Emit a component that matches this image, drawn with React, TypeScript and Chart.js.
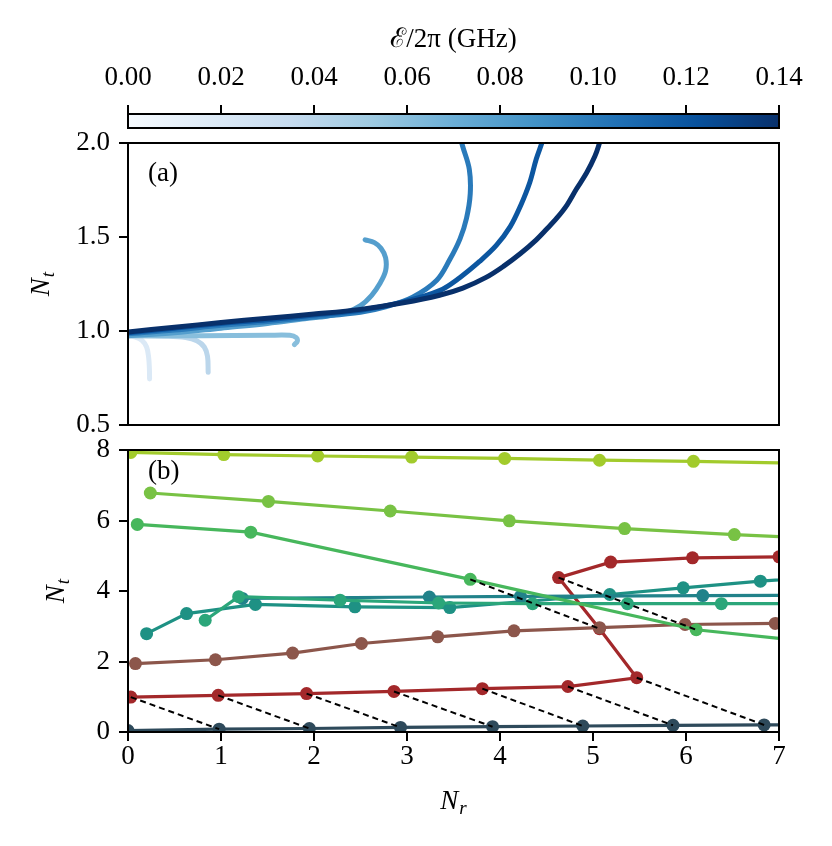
import React, { useEffect, useRef } from 'react';
import { Chart, registerables } from 'chart.js';
Chart.register(...registerables);

const W = 832;
const H = 846;
const FONT = "'Liberation Serif', 'DejaVu Serif', serif";
const FS = 27;

type Pt = [number, number];

// ---------- colorbar ----------
const CBAR_MIN = 0;
const CBAR_MAX = 0.14;
const CBAR_STEP = 0.02;
const CBAR_TITLE = 'ℰ/2π (GHz)';
const BLUES = ['#f7fbff', '#deebf7', '#c6dbef', '#9ecae1', '#6baed6', '#4292c6', '#2171b5', '#08519c', '#08306b'];

// ---------- panel (a): trajectories for each drive strength ----------
const EPS = [0.02, 0.04, 0.06, 0.08, 0.1, 0.12, 0.14];
const CURVE_1: Pt[] = [[0, 0.975], [0.08, 0.968], [0.15, 0.95], [0.2, 0.915], [0.222, 0.86], [0.23, 0.8], [0.232, 0.745]];
const CURVE_2: Pt[] = [[0, 0.975], [0.4, 0.972], [0.62, 0.965], [0.74, 0.948], [0.82, 0.915], [0.855, 0.865], [0.862, 0.78]];
const CURVE_3: Pt[] = [[0, 0.975], [0.8, 0.975], [1.5, 0.977], [1.74, 0.977], [1.81, 0.965], [1.82, 0.945], [1.79, 0.928]];
const CURVE_4: Pt[] = [[0, 0.975], [0.5, 0.99], [1.0, 1.015], [1.5, 1.04], [1.9, 1.065], [2.15, 1.08], [2.35, 1.1], [2.5, 1.135], [2.62, 1.19], [2.71, 1.254], [2.77, 1.32], [2.77, 1.39], [2.72, 1.44], [2.65, 1.47], [2.55, 1.485]];
const CURVE_5: Pt[] = [[0, 0.985], [0.5, 1.005], [1, 1.03], [1.5, 1.05], [2, 1.075], [2.5, 1.1], [2.78, 1.13], [3.06, 1.18], [3.32, 1.27], [3.46, 1.38], [3.57, 1.49], [3.64, 1.6], [3.68, 1.73], [3.67, 1.86], [3.6, 1.98], [3.56, 2.05]];
const CURVE_6: Pt[] = [[0, 0.99], [0.5, 1.015], [1, 1.04], [1.5, 1.06], [2, 1.085], [2.5, 1.11], [2.96, 1.155], [3.35, 1.215], [3.57, 1.285], [3.78, 1.37], [3.96, 1.455], [4.11, 1.555], [4.22, 1.665], [4.32, 1.79], [4.39, 1.915], [4.45, 2.0], [4.48, 2.05]];
const CURVE_7: Pt[] = [[0, 0.995], [0.5, 1.02], [1, 1.045], [1.5, 1.068], [2, 1.09], [2.5, 1.115], [2.96, 1.15], [3.35, 1.19], [3.6, 1.228], [3.85, 1.285], [4.04, 1.345], [4.22, 1.412], [4.39, 1.485], [4.5, 1.541], [4.61, 1.6], [4.72, 1.67], [4.82, 1.754], [4.93, 1.84], [5.02, 1.929], [5.07, 2.0], [5.1, 2.05]];
const CURVES_A = [CURVE_1, CURVE_2, CURVE_3, CURVE_4, CURVE_5, CURVE_6, CURVE_7];
const A_Y_TICKS = [0.5, 1.0, 1.5, 2.0];

// ---------- panel (b): branches ----------
const DARK: Pt[] = [[0, 0.04], [0.98, 0.08], [1.95, 0.1], [2.93, 0.13], [3.92, 0.15], [4.89, 0.17], [5.86, 0.19], [6.84, 0.2], [7.8, 0.22]];
const RED: Pt[] = [[0.03, 0.99], [0.97, 1.04], [1.92, 1.09], [2.86, 1.15], [3.81, 1.23], [4.73, 1.29], [5.47, 1.54], [5.07, 2.93], [4.63, 4.38], [5.19, 4.82], [6.07, 4.94], [7.0, 4.97]];
const BROWN: Pt[] = [[0.08, 1.94], [0.94, 2.05], [1.77, 2.24], [2.51, 2.51], [3.33, 2.7], [4.15, 2.87], [5.07, 2.96], [5.99, 3.05], [6.96, 3.08]];
const TEAL_1: Pt[] = [[0.2, 2.79], [0.63, 3.36], [1.37, 3.62], [2.44, 3.55], [3.46, 3.53], [5.18, 3.9], [5.97, 4.09], [6.8, 4.28], [7.6, 4.42]];
const TEAL_2: Pt[] = [[1.23, 3.79], [3.24, 3.83], [4.22, 3.85], [6.18, 3.87], [7.6, 3.88]];
const GREEN_TEAL: Pt[] = [[0.83, 3.17], [1.19, 3.84], [2.28, 3.74], [3.34, 3.66], [4.35, 3.64], [5.37, 3.64], [6.38, 3.64], [7.4, 3.64]];
const MID_GREEN: Pt[] = [[0.1, 5.89], [1.32, 5.67], [3.68, 4.33], [6.11, 2.9], [8.5, 2.25]];
const LIGHT_GREEN: Pt[] = [[0.24, 6.78], [1.51, 6.54], [2.82, 6.27], [4.1, 5.99], [5.34, 5.77], [6.52, 5.6], [7.7, 5.46]];
const YELLOW_GREEN: Pt[] = [[0.03, 7.93], [1.03, 7.87], [2.04, 7.83], [3.05, 7.8], [4.05, 7.76], [5.07, 7.71], [6.08, 7.68], [7.09, 7.63]];
// dashed connectors: [x1, y1, x2, y2]
const DASH_PAIRS: [number, number, number, number][] = [
  [0.03, 0.99, 0.98, 0.08],
  [0.97, 1.04, 1.95, 0.1],
  [1.92, 1.09, 2.93, 0.13],
  [2.86, 1.15, 3.92, 0.15],
  [3.81, 1.23, 4.89, 0.17],
  [4.73, 1.29, 5.86, 0.19],
  [5.47, 1.54, 6.84, 0.2],
  [3.68, 4.33, 5.07, 2.93],
  [4.63, 4.38, 6.11, 2.9],
];
const B_SERIES: { pts: Pt[]; color: string }[] = [
  { pts: YELLOW_GREEN, color: '#a2cb2c' },
  { pts: LIGHT_GREEN, color: '#78c244' },
  { pts: MID_GREEN, color: '#47b75c' },
  { pts: GREEN_TEAL, color: '#2ba67a' },
  { pts: TEAL_2, color: '#21828a' },
  { pts: TEAL_1, color: '#1e9184' },
  { pts: BROWN, color: '#8c564b' },
  { pts: RED, color: '#a3282a' },
  { pts: DARK, color: '#2e4a5b' },
];

// ---------- helpers ----------
function hexToRgb(h: string): number[] {
  const n = parseInt(h.slice(1), 16);
  return [(n >> 16) & 255, (n >> 8) & 255, n & 255];
}
function blues(t: number): string {
  const c = Math.max(0, Math.min(1, t)) * (BLUES.length - 1);
  const i = Math.min(Math.floor(c), BLUES.length - 2);
  const f = c - i;
  const a = hexToRgb(BLUES[i]);
  const b = hexToRgb(BLUES[i + 1]);
  const m = a.map((v, k) => Math.round(v + (b[k] - v) * f));
  return `rgb(${m[0]},${m[1]},${m[2]})`;
}
const toXY = (p: Pt[]) => p.map(([x, y]) => ({ x, y }));

function drawMathLabel(ctx: CanvasRenderingContext2D, cx: number, cy: number, main: string, sub: string, rotate: boolean) {
  ctx.save();
  ctx.translate(cx, cy);
  if (rotate) ctx.rotate(-Math.PI / 2);
  ctx.fillStyle = '#000';
  const mainFont = `italic ${FS}px ${FONT}`;
  const subFont = `italic 19px ${FONT}`;
  ctx.font = mainFont;
  const w1 = ctx.measureText(main).width;
  ctx.font = subFont;
  const w2 = ctx.measureText(sub).width;
  const total = w1 + w2 + 1;
  ctx.textBaseline = 'alphabetic';
  ctx.textAlign = 'left';
  ctx.font = mainFont;
  ctx.fillText(main, -total / 2, 9);
  ctx.font = subFont;
  ctx.fillText(sub, -total / 2 + w1 + 1, 14);
  ctx.restore();
}

const framePlugin = {
  id: 'frame',
  afterDraw(chart: any) {
    const { ctx, chartArea: a } = chart;
    ctx.save();
    ctx.strokeStyle = '#000';
    ctx.lineWidth = 2;
    ctx.strokeRect(a.left, a.top, a.right - a.left, a.bottom - a.top);
    ctx.restore();
  },
};

const tickGrid = {
  drawOnChartArea: false,
  drawTicks: true,
  tickLength: 9,
  tickWidth: 2,
  lineWidth: 2,
  tickColor: '#000',
};

const baseOpts = {
  responsive: false,
  animation: false as const,
  devicePixelRatio: 1,
  events: [] as any[],
};

function colorbarConfig(): any {
  return {
    type: 'scatter',
    data: { datasets: [] },
    options: {
      ...baseOpts,
      layout: { padding: { left: 128, right: 53, top: 0, bottom: H - 128 } },
      plugins: { legend: { display: false }, tooltip: { enabled: false } },
      scales: {
        x: {
          type: 'linear',
          position: 'top',
          min: CBAR_MIN,
          max: CBAR_MAX,
          ticks: {
            stepSize: CBAR_STEP,
            autoSkip: false,
            maxRotation: 0,
            padding: 11,
            color: '#000',
            font: { family: FONT, size: FS },
            callback: (v: number) => v.toFixed(2),
          },
          grid: tickGrid,
          border: { display: false },
          title: { display: true, text: CBAR_TITLE, color: '#000', font: { family: FONT, size: FS }, padding: { top: 24, bottom: 0 } },
          afterFit: (s: any) => { s.height = 114; },
        },
        y: { display: false, min: 0, max: 1 },
      },
    },
    plugins: [
      {
        id: 'gradient',
        beforeDraw(chart: any) {
          const { ctx, chartArea: a } = chart;
          const g = ctx.createLinearGradient(a.left, 0, a.right, 0);
          BLUES.forEach((c, i) => g.addColorStop(i / (BLUES.length - 1), c));
          ctx.save();
          ctx.fillStyle = g;
          ctx.fillRect(a.left, a.top, a.right - a.left, a.bottom - a.top);
          ctx.restore();
        },
      },
      framePlugin,
    ],
  };
}

function panelAConfig(): any {
  return {
    type: 'scatter',
    data: {
      datasets: CURVES_A.map((pts, i) => ({
        data: toXY(pts),
        showLine: true,
        borderColor: blues(EPS[i] / CBAR_MAX),
        backgroundColor: blues(EPS[i] / CBAR_MAX),
        borderWidth: 5,
        pointRadius: 0,
        tension: 0.35,
        clip: 0,
        borderCapStyle: 'round',
        borderJoinStyle: 'round',
        order: CURVES_A.length - i,
      })),
    },
    options: {
      ...baseOpts,
      layout: { padding: { left: 0, right: 53, top: 143, bottom: H - 425 } },
      plugins: { legend: { display: false }, tooltip: { enabled: false } },
      scales: {
        x: { type: 'linear', min: 0, max: 7, display: false },
        y: {
          type: 'linear',
          min: A_Y_TICKS[0],
          max: A_Y_TICKS[A_Y_TICKS.length - 1],
          afterBuildTicks: (s: any) => { s.ticks = A_Y_TICKS.map((v) => ({ value: v })); },
          ticks: { padding: 9, color: '#000', font: { family: FONT, size: FS }, callback: (v: number) => v.toFixed(1) },
          grid: tickGrid,
          border: { display: false },
          afterFit: (s: any) => { s.width = 128; },
        },
      },
    },
    plugins: [
      framePlugin,
      {
        id: 'labelsA',
        afterDraw(chart: any) {
          const { ctx, chartArea: a } = chart;
          ctx.save();
          ctx.fillStyle = '#000';
          ctx.font = `${FS}px ${FONT}`;
          ctx.textBaseline = 'middle';
          ctx.textAlign = 'left';
          ctx.fillText('(a)', a.left + 20, a.top + 31);
          ctx.restore();
          drawMathLabel(ctx, 40, (a.top + a.bottom) / 2, 'N', 't', true);
        },
      },
    ],
  };
}

function panelBConfig(): any {
  const dashSets = DASH_PAIRS.map(([x1, y1, x2, y2]) => ({
    data: [{ x: x1, y: y1 }, { x: x2, y: y2 }],
    showLine: true,
    borderColor: '#000',
    borderWidth: 2,
    borderDash: [6, 4],
    pointRadius: 0,
    clip: 0,
    order: 0,
  }));
  const lineSets = B_SERIES.map((s, i) => ({
    data: toXY(s.pts),
    showLine: true,
    borderColor: s.color,
    backgroundColor: s.color,
    pointBackgroundColor: s.color,
    pointBorderWidth: 0,
    pointRadius: 6.5,
    borderWidth: 3.2,
    tension: 0,
    clip: 0,
    order: i + 1,
  }));
  return {
    type: 'scatter',
    data: { datasets: [...dashSets, ...lineSets] },
    options: {
      ...baseOpts,
      layout: { padding: { left: 0, right: 53, top: 450, bottom: 0 } },
      plugins: { legend: { display: false }, tooltip: { enabled: false } },
      scales: {
        x: {
          type: 'linear',
          min: 0,
          max: 7,
          ticks: { stepSize: 1, padding: 0, maxRotation: 0, color: '#000', font: { family: FONT, size: FS } },
          grid: tickGrid,
          border: { display: false },
          afterFit: (s: any) => { s.height = H - 732; },
        },
        y: {
          type: 'linear',
          min: 0,
          max: 8,
          ticks: { stepSize: 2, padding: 9, color: '#000', font: { family: FONT, size: FS } },
          grid: tickGrid,
          border: { display: false },
          afterFit: (s: any) => { s.width = 128; },
        },
      },
    },
    plugins: [
      framePlugin,
      {
        id: 'labelsB',
        afterDraw(chart: any) {
          const { ctx, chartArea: a } = chart;
          ctx.save();
          ctx.fillStyle = '#000';
          ctx.font = `${FS}px ${FONT}`;
          ctx.textBaseline = 'middle';
          ctx.textAlign = 'left';
          ctx.fillText('(b)', a.left + 20, a.top + 22);
          ctx.restore();
          drawMathLabel(ctx, 55, (a.top + a.bottom) / 2, 'N', 't', true);
          drawMathLabel(ctx, (a.left + a.right) / 2, a.bottom + 68, 'N', 'r', false);
        },
      },
    ],
  };
}

export default function App() {
  const cbRef = useRef<HTMLCanvasElement>(null);
  const aRef = useRef<HTMLCanvasElement>(null);
  const bRef = useRef<HTMLCanvasElement>(null);
  useEffect(() => {
    Chart.defaults.font.family = FONT;
    Chart.defaults.color = '#000';
    const charts = [
      new Chart(cbRef.current as HTMLCanvasElement, colorbarConfig()),
      new Chart(aRef.current as HTMLCanvasElement, panelAConfig()),
      new Chart(bRef.current as HTMLCanvasElement, panelBConfig()),
    ];
    return () => charts.forEach((c) => c.destroy());
  }, []);
  const cs: React.CSSProperties = { position: 'absolute', left: 0, top: 0, width: W, height: H };
  return (
    <div style={{ position: 'absolute', left: 0, top: 0, width: W, height: H, background: '#fff', overflow: 'hidden' }}>
      <canvas ref={cbRef} width={W} height={H} style={cs} />
      <canvas ref={aRef} width={W} height={H} style={cs} />
      <canvas ref={bRef} width={W} height={H} style={cs} />
    </div>
  );
}
